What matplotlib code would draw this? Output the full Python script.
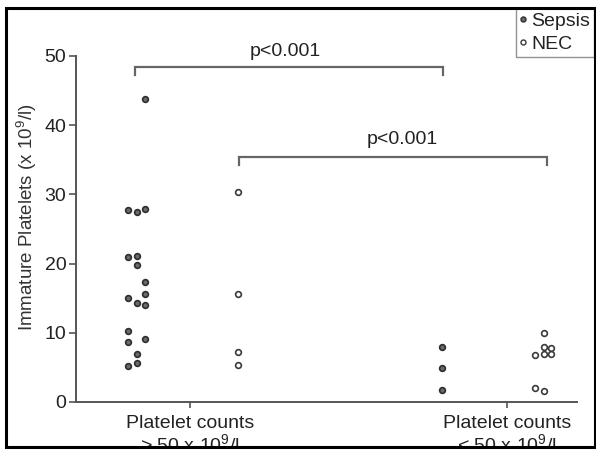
import matplotlib
matplotlib.use("Agg")
import matplotlib.pyplot as plt
from matplotlib.lines import Line2D
from matplotlib.patches import Rectangle

plt.rcParams['font.family'] = ['Liberation Sans', 'DejaVu Sans']
plt.rcParams['mathtext.fontset'] = 'custom'
plt.rcParams['mathtext.rm'] = 'Liberation Sans'
plt.rcParams['mathtext.it'] = 'Liberation Sans:italic'
plt.rcParams['mathtext.bf'] = 'Liberation Sans:bold'

# ---- data ----
categories = ["Platelet counts\n> 50 x 10$^9$/l", "Platelet counts\n< 50 x 10$^9$/l"]
cat_pos = [1, 2]

# group 1 (> 50)
sepsis_hi_vals = [43.8, 27.8, 27.4, 27.9, 21.0, 21.1, 19.8, 17.4, 15.6, 15.0,
                  14.3, 14.0, 10.3, 8.6, 9.1, 7.0, 5.7, 5.2]
sepsis_hi_off = [-0.142, -0.195, -0.168, -0.142, -0.195, -0.168, -0.168, -0.142, -0.142, -0.195,
                 -0.168, -0.142, -0.195, -0.195, -0.142, -0.168, -0.168, -0.195]
nec_hi_vals = [30.4, 15.6, 7.2, 5.4]
nec_hi_off = [0.152, 0.152, 0.152, 0.152]

# group 2 (< 50)
sepsis_lo_vals = [8.0, 4.9, 1.8]
sepsis_lo_off = [-0.206, -0.206, -0.206]
nec_lo_vals = [9.9, 7.9, 7.0, 7.8, 7.0, 6.8, 2.0, 1.6]
nec_lo_off = [0.115, 0.115, 0.115, 0.138, 0.138, 0.088, 0.088, 0.115]

# significance brackets
bracket_x = [[0.827, 1.798], [1.155, 2.125]]
bracket_y = [48.4, 35.4]
bracket_drop = 1.2
pval_labels = ["p<0.001", "p<0.001"]
pval_x = [1.30, 1.67]
pval_y = [50.7, 37.9]

yticks = [0, 10, 20, 30, 40, 50]

# ---- figure ----
W, H = 596, 451
fig = plt.figure(figsize=(W / 100, H / 100), dpi=100)
ax = fig.add_axes([76 / W, 1 - 402 / H, (577 - 76) / W, (402 - 56) / H])

axis_col = '#555555'
sep_face, sep_edge = '#6a6a6a', '#2e2e2e'
nec_face, nec_edge = 'white', '#3a3a3a'
ms = 17

ax.scatter([cat_pos[0] + o for o in sepsis_hi_off], sepsis_hi_vals, s=ms,
           facecolor=sep_face, edgecolor=sep_edge, linewidths=1.2, zorder=3, clip_on=False)
ax.scatter([cat_pos[0] + o for o in nec_hi_off], nec_hi_vals, s=ms,
           facecolor=nec_face, edgecolor=nec_edge, linewidths=1.2, zorder=3, clip_on=False)
ax.scatter([cat_pos[1] + o for o in sepsis_lo_off], sepsis_lo_vals, s=ms,
           facecolor=sep_face, edgecolor=sep_edge, linewidths=1.2, zorder=3, clip_on=False)
ax.scatter([cat_pos[1] + o for o in nec_lo_off], nec_lo_vals, s=ms,
           facecolor=nec_face, edgecolor=nec_edge, linewidths=1.2, zorder=3, clip_on=False)

for (x0, x1), y, lab, tx, ty in zip(bracket_x, bracket_y, pval_labels, pval_x, pval_y):
    ax.plot([x0, x0, x1, x1], [y - bracket_drop, y, y, y - bracket_drop],
            color='#666666', lw=1.6, clip_on=False, solid_joinstyle='miter')
    ax.text(tx, ty, lab, ha='center', va='center', fontsize=14, color='#222222')

ax.set_xlim(0.64, 2.22)
ax.set_ylim(0, 50)
ax.set_yticks(yticks)
ax.set_xticks(cat_pos)
ax.set_xticklabels(categories, fontsize=14, linespacing=1.12, color='#222222')
ax.tick_params(axis='y', labelsize=14, colors=axis_col, labelcolor='#222222',
               direction='out', length=5, width=1.2, pad=2)
ax.tick_params(axis='x', colors=axis_col, labelcolor='#222222',
               direction='out', length=4, width=1.2, pad=5)

for s in ['top', 'right']:
    ax.spines[s].set_visible(False)
for s in ['left', 'bottom']:
    ax.spines[s].set_color(axis_col)
    ax.spines[s].set_linewidth(1.4)

ax.set_ylabel("Immature Platelets (x 10$^9$/l)", fontsize=13.5, color='#333333')
ax.yaxis.set_label_coords(-0.074, 0.535)

handles = [Line2D([], [], ls='none', marker='o', markersize=3.6, markerfacecolor=sep_face,
                  markeredgecolor=sep_edge, markeredgewidth=1.0),
           Line2D([], [], ls='none', marker='o', markersize=3.6, markerfacecolor=nec_face,
                  markeredgecolor=nec_edge, markeredgewidth=1.0)]
leg = fig.legend(handles, ["Sepsis", "NEC"], loc='upper left',
                 bbox_to_anchor=(516 / W, 1 - 8 / H), bbox_transform=fig.transFigure,
                 fontsize=14, frameon=True, fancybox=False, borderpad=0.2,
                 handlelength=0.35, handletextpad=0.25, labelspacing=0.3,
                 borderaxespad=0)
leg.get_frame().set_edgecolor('#777777')
leg.get_frame().set_linewidth(1.0)
for t in leg.get_texts():
    t.set_color('#222222')

# outer frame (clips text at the bottom)
fig.add_artist(Rectangle((0, 0), 1, 4 / H, transform=fig.transFigure,
                         facecolor='white', edgecolor='none', zorder=20))
fig.add_artist(Rectangle((6 / W, 4 / H), 589 / W, 439 / H, transform=fig.transFigure,
                         facecolor='none', edgecolor='black', linewidth=2.2, zorder=21))

fig.savefig("out.png", dpi=100)
